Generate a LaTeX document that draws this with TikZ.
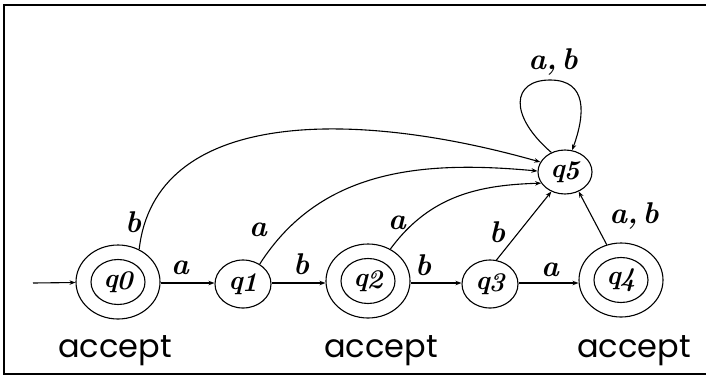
\documentclass[tikz,border=0pt]{standalone}
\usepackage{fontspec}
\newfontfamily\popfont{Poppins}
\usetikzlibrary{shapes.geometric,arrows.meta}
\tikzset{
  st/.style={ellipse,draw,line width=1.1pt,inner sep=0pt,minimum width=56pt,minimum height=48pt},
  acc/.style={ellipse,draw,line width=1.1pt,inner sep=0pt,minimum width=84pt,minimum height=74pt},
  accin/.style={ellipse,draw,line width=1.1pt,inner sep=0pt,minimum width=54pt,minimum height=45pt,font=\fontsize{27}{30}\selectfont\bfseries\itshape},
  tr/.style={line width=1.1pt,-{Stealth[length=6pt,width=4.5pt]}},
  lab/.style={inner sep=0pt,font=\fontsize{30}{34}\selectfont\bfseries\itshape},
  acctext/.style={inner sep=0pt,anchor=base,font=\popfont\fontsize{32}{34}\selectfont},
  ql/.style={font=\fontsize{27}{30}\selectfont\bfseries\itshape}
}
\newcommand{\qq}[1]{q\kern-1pt\raisebox{-2pt}{#1}}
\begin{document}
\begin{tikzpicture}[x=1pt,y=-1pt]
\useasboundingbox (0,0) rectangle (706,378);
\draw[line width=1.2pt] (705.5,5) -- (4,5) -- (4,374) -- (705.5,374);
% states
\node[acc] (q0) at (118,282) {};
\node[accin] (q0i) at (118,282) {\qq{0}};
\node[st,ql] (q1) at (243,284) {\qq{1}};
\node[acc] (q2) at (368,281) {};
\node[accin] (q2i) at (368,281) {\qq{2}};
\node[st,ql] (q3) at (490,284) {\qq{3}};
\node[acc] (q4) at (621,280) {};
\node[accin] (q4i) at (621,280) {\qq{4}};
\node[st,ql,minimum width=54pt,minimum height=44pt] (q5) at (565,172) {\qq{5}};
\coordinate (start) at (33,283);
% transitions
\draw[tr] (start) -- (q0);
\draw[tr] (q0.east |- 0,283) -- (q1.west |- 0,283);
\draw[tr] (q1.east |- 0,283) -- (q2.west |- 0,283);
\draw[tr] (q2.east |- 0,283) -- (q3.west |- 0,283);
\draw[tr] (q3.east |- 0,283) -- (q4.west |- 0,283);
\draw[tr] (q0.57) .. controls (155,110) and (350,108) .. (q5.158);
\draw[tr] (q1.50) .. controls (320,170) and (420,160) .. (q5.178);
\draw[tr] (q2.55) .. controls (430,195) and (480,185) .. (q5.205);
\draw[tr] (q3.75) -- (q5.235);
\draw[tr] (q4.112) -- (q5.-55);
\draw[tr] (q5.125) .. controls (508,115) and (512,80) .. (550,80) .. controls (588,80) and (585,115) .. (q5.72);
% labels
\node[lab] (l01) at (180,268) {a};
\node[lab] (l12) at (301,264) {b};
\node[lab] (l05) at (133,222) {b};
\node[lab] (l15) at (258,230) {a};
\node[lab] (l25) at (397,223) {a};
\node[lab] (l23) at (423,265) {b};
\node[lab] (l35) at (497,232) {b};
\node[lab] (l34) at (550,270) {a};
\node[lab] (l45) at (634,216) {a,\,b};
\node[lab] (l55) at (553,62) {a,\,b};
\node[acctext] (t0) at (115,357) {accept};
\node[acctext] (t2) at (381,357) {accept};
\node[acctext] (t4) at (634,357) {accept};
\end{tikzpicture}
\end{document}
